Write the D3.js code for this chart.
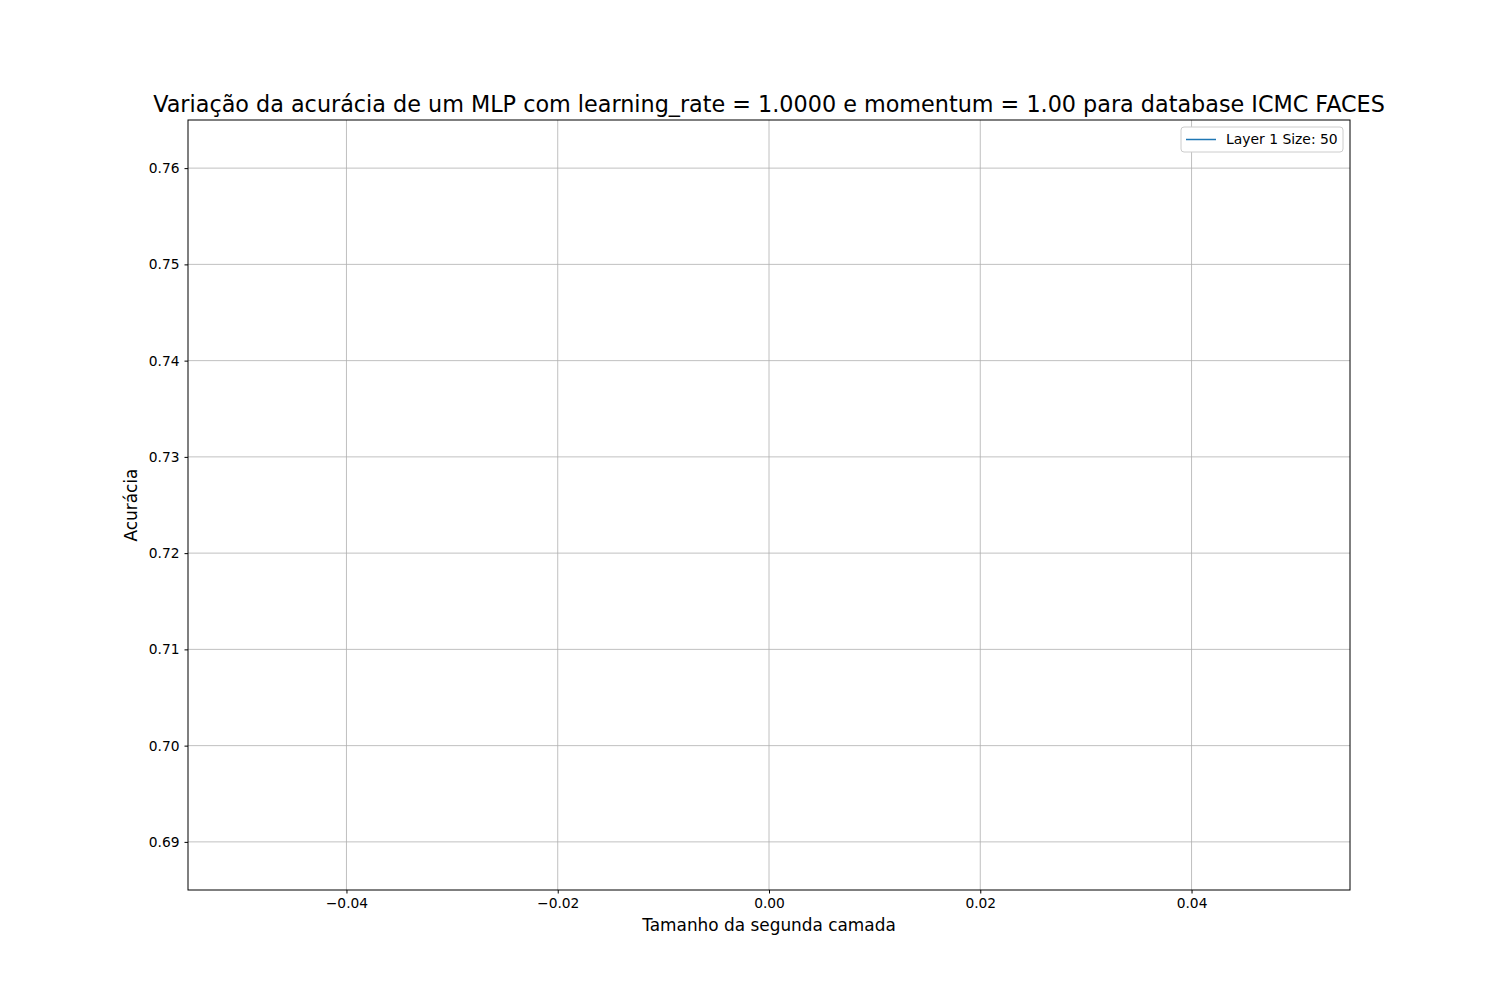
<!DOCTYPE html>
<html><head><meta charset="utf-8">
<script src="https://cdn.jsdelivr.net/npm/d3@7"></script>
<style>body{margin:0;background:#fff;font-family:"DejaVu Sans",sans-serif}</style>
</head><body>
<svg id="chart" width="1500" height="1000"></svg>
<script>
// single run: layer 2 size 0, one point only (matplotlib draws nothing for it)
const layer2Sizes = [0];
const accuracy = [0.725];
const seriesName = 'Layer 1 Size: 50';
const xTicks = [-0.04, -0.02, 0.00, 0.02, 0.04];
const yTicks = [0.69, 0.70, 0.71, 0.72, 0.73, 0.74, 0.75, 0.76];

const svg = d3.select('#chart');
const m = {left: 188, right: 1350, top: 120, bottom: 890};
const x = d3.scaleLinear().domain([-0.055, 0.055]).range([m.left, m.right]);
const y = d3.scaleLinear().domain([0.685, 0.765]).range([m.bottom, m.top]);

// grid
svg.append('g').selectAll('line').data(xTicks).join('line')
    .attr('x1', d => x(d)).attr('x2', d => x(d)).attr('y1', m.top).attr('y2', m.bottom)
    .attr('stroke', '#b0b0b0').attr('stroke-width', 0.8);
svg.append('g').selectAll('line').data(yTicks).join('line')
    .attr('y1', d => y(d)).attr('y2', d => y(d)).attr('x1', m.left).attr('x2', m.right)
    .attr('stroke', '#b0b0b0').attr('stroke-width', 0.8);

const xAxis = svg.append('g').attr('transform', `translate(0,${m.bottom})`)
    .call(d3.axisBottom(x).tickValues(xTicks).tickFormat(d => d3.format('.2f')(d).replace('-', '\u2212')).tickSize(3.5).tickPadding(5));
const yAxis = svg.append('g').attr('transform', `translate(${m.left},0)`)
    .call(d3.axisLeft(y).tickValues(yTicks).tickFormat(d3.format('.2f')).tickSize(3.5).tickPadding(5));
[xAxis, yAxis].forEach(a => {
    a.select('.domain').remove();
    a.selectAll('text').attr('font-size', 13.8).attr('font-family', 'DejaVu Sans').attr('fill', '#000');
});

// line (one point, so nothing visible)
svg.append('path').datum(d3.zip(layer2Sizes, accuracy))
    .attr('d', d3.line().x(d => x(d[0])).y(d => y(d[1])))
    .attr('fill', 'none').attr('stroke', '#1f77b4').attr('stroke-width', 1.5);

svg.append('rect').attr('x', m.left).attr('y', m.top)
    .attr('width', m.right - m.left).attr('height', m.bottom - m.top)
    .attr('fill', 'none').attr('stroke', '#000').attr('stroke-width', 1);

svg.append('text').attr('x', (m.left + m.right) / 2).attr('y', 112).attr('text-anchor', 'middle')
    .attr('font-size', 22.3).text('Variação da acurácia de um MLP com learning_rate = 1.0000 e momentum = 1.00 para database ICMC FACES');
svg.append('text').attr('x', (m.left + m.right) / 2).attr('y', 931).attr('text-anchor', 'middle')
    .attr('font-size', 16.9).text('Tamanho da segunda camada');
svg.append('text').attr('transform', `translate(137,${(m.top + m.bottom) / 2}) rotate(-90)`)
    .attr('text-anchor', 'middle').attr('font-size', 16.9).text('Acurácia');

// legend
const lg = svg.append('g').attr('transform', 'translate(1181,127)');
lg.append('rect').attr('width', 162).attr('height', 25).attr('rx', 3)
    .attr('fill', '#fff').attr('stroke', '#ccc');
lg.append('line').attr('x1', 5).attr('x2', 35).attr('y1', 12.5).attr('y2', 12.5)
    .attr('stroke', '#1f77b4').attr('stroke-width', 1.5);
lg.append('text').attr('x', 45).attr('y', 17).attr('font-size', 13.9).text(seriesName);
</script>
</body></html>
